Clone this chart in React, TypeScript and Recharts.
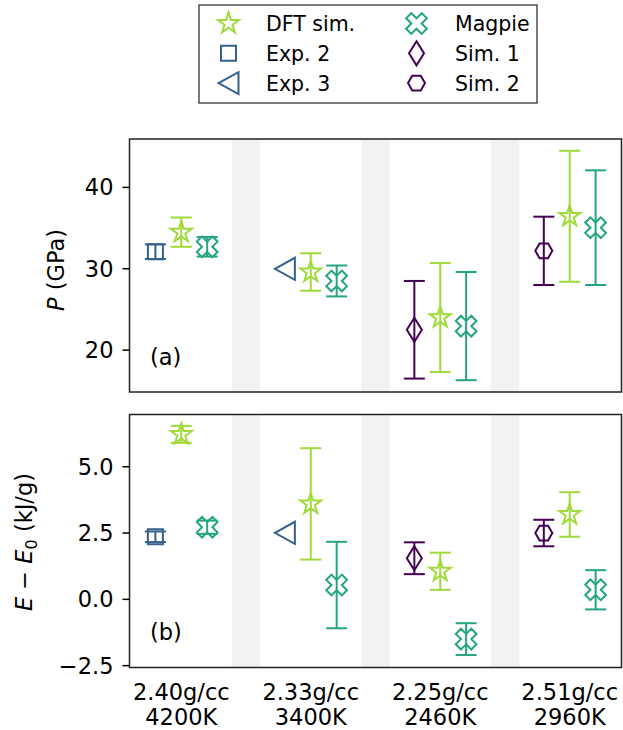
import { ScatterChart, Scatter, XAxis, YAxis, ErrorBar, ReferenceArea } from 'recharts'

// x tick labels
const densities = ['2.40g/cc', '2.33g/cc', '2.25g/cc', '2.51g/cc']
const temperatures = ['4200K', '3400K', '2460K', '2960K']

// (a) pressure, GPa
const dftP = [34.5, 29.6, 24.0, 36.45]
const dftPErr = [1.8, 2.3, 6.7, 8.05]
const magpieP = [32.7, 28.5, 22.95, 35.05]
const magpiePErr = [1.2, 1.9, 6.65, 7.05]
const exp2P = [32.1]
const exp2PErr = [0.9]
const exp3P = [30.0]
const sim1P = [22.5]
const sim1PErr = [6.0]
const sim2P = [32.2]
const sim2PErr = [4.2]

// (b) energy, kJ/g
const dftE = [6.22, 3.6, 1.06, 3.2]
const dftEErr = [0.32, 2.1, 0.7, 0.84]
const magpieE = [2.72, 0.54, -1.5, 0.36]
const magpieEErr = [0.25, 1.63, 0.6, 0.74]
const exp2E = [2.36]
const exp2EErr = [0.2]
const exp3E = [2.51]
const sim1E = [1.55]
const sim1EErr = [0.6]
const sim2E = [2.5]
const sim2EErr = [0.5]

// which density/temperature group each reference series belongs to
const exp2Groups = [0]
const exp3Groups = [1]
const sim1Groups = [2]
const sim2Groups = [3]
const allGroups = [0, 1, 2, 3]

const GREEN = '#9fda3a'
const TEAL = '#23a584'
const BLUE = '#35618d'
const PURPLE = '#440154'
const FONT = 'DejaVu Sans'
const SHIFT = 0.2

const pts = (groups: number[], shift: number, vals: number[], errs?: number[]) =>
  groups.map((g, i) => ({ x: g + shift, y: vals[i], err: errs ? errs[i] : 0 }))

// marker paths, centred on (cx, cy)
const starPath = (cx: number, cy: number) => {
  const R = 11
  const r = R * 0.382
  let d = ''
  for (let k = 0; k < 10; k++) {
    const rad = k % 2 === 0 ? R : r
    const a = -Math.PI / 2 + (k * Math.PI) / 5
    d += (k === 0 ? 'M' : 'L') + (cx + rad * Math.cos(a)).toFixed(2) + ',' + (cy + rad * Math.sin(a)).toFixed(2)
  }
  return d + 'Z'
}
const squarePath = (cx: number, cy: number) => `M${cx - 7.5},${cy - 7.5}h15v15h-15Z`
const triPath = (cx: number, cy: number) => `M${cx - 10},${cy}L${cx + 10},${cy - 11}L${cx + 10},${cy + 11}Z`
const diamondPath = (cx: number, cy: number) => `M${cx},${cy - 12}L${cx + 7.5},${cy}L${cx},${cy + 12}L${cx - 7.5},${cy}Z`
const hexPath = (cx: number, cy: number) => {
  const R = 8.5
  let d = ''
  for (let k = 0; k < 6; k++) {
    const a = (k * Math.PI) / 3
    d += (k === 0 ? 'M' : 'L') + (cx + R * Math.cos(a)).toFixed(2) + ',' + (cy + R * Math.sin(a)).toFixed(2)
  }
  return d + 'Z'
}
const xPath = (cx: number, cy: number) => {
  const s = 22 / 6
  const base = [[-1, -3], [-1, -1], [-3, -1], [-3, 1], [-1, 1], [-1, 3], [1, 3], [1, 1], [3, 1], [3, -1], [1, -1], [1, -3]]
  const c = Math.SQRT1_2
  return base
    .map(([px, py], k) => {
      const x = (px * c - py * c) * s
      const y = (px * c + py * c) * s
      return (k === 0 ? 'M' : 'L') + (cx + x).toFixed(2) + ',' + (cy + y).toFixed(2)
    })
    .join('') + 'Z'
}

const marker = (pathFn: (cx: number, cy: number) => string, color: string) => (props: any) => (
  <path d={pathFn(props.cx, props.cy)} fill="none" stroke={color} strokeWidth={2} />
)

type Series = { name: string; data: { x: number; y: number; err: number }[]; color: string; path: (cx: number, cy: number) => string; err: boolean }

const pressureSeries: Series[] = [
  { name: 'Exp. 2', data: pts(exp2Groups, -SHIFT, exp2P, exp2PErr), color: BLUE, path: squarePath, err: true },
  { name: 'Exp. 3', data: pts(exp3Groups, -SHIFT, exp3P), color: BLUE, path: triPath, err: false },
  { name: 'Sim. 1', data: pts(sim1Groups, -SHIFT, sim1P, sim1PErr), color: PURPLE, path: diamondPath, err: true },
  { name: 'Sim. 2', data: pts(sim2Groups, -SHIFT, sim2P, sim2PErr), color: PURPLE, path: hexPath, err: true },
  { name: 'DFT sim.', data: pts(allGroups, 0, dftP, dftPErr), color: GREEN, path: starPath, err: true },
  { name: 'Magpie', data: pts(allGroups, SHIFT, magpieP, magpiePErr), color: TEAL, path: xPath, err: true },
]

const energySeries: Series[] = [
  { name: 'Exp. 2', data: pts(exp2Groups, -SHIFT, exp2E, exp2EErr), color: BLUE, path: squarePath, err: true },
  { name: 'Exp. 3', data: pts(exp3Groups, -SHIFT, exp3E), color: BLUE, path: triPath, err: false },
  { name: 'Sim. 1', data: pts(sim1Groups, -SHIFT, sim1E, sim1EErr), color: PURPLE, path: diamondPath, err: true },
  { name: 'Sim. 2', data: pts(sim2Groups, -SHIFT, sim2E, sim2EErr), color: PURPLE, path: hexPath, err: true },
  { name: 'DFT sim.', data: pts(allGroups, 0, dftE, dftEErr), color: GREEN, path: starPath, err: true },
  { name: 'Magpie', data: pts(allGroups, SHIFT, magpieE, magpieEErr), color: TEAL, path: xPath, err: true },
]

const legendItems = [
  { name: 'DFT sim.', color: GREEN, path: starPath, col: 0, row: 0 },
  { name: 'Exp. 2', color: BLUE, path: squarePath, col: 0, row: 1 },
  { name: 'Exp. 3', color: BLUE, path: triPath, col: 0, row: 2 },
  { name: 'Magpie', color: TEAL, path: xPath, col: 1, row: 0 },
  { name: 'Sim. 1', color: PURPLE, path: diamondPath, col: 1, row: 1 },
  { name: 'Sim. 2', color: PURPLE, path: hexPath, col: 1, row: 2 },
]

const X_DOMAIN: [number, number] = [-0.4, 3.4]
const tickStyle = { fontSize: 22.5, fill: '#000', fontFamily: FONT }
const fmtE = (v: number) => (v < 0 ? '\u2212' + Math.abs(v).toFixed(1) : v.toFixed(1))

const XTick = (props: any) => {
  const { x, payload } = props
  return (
    <text textAnchor="middle" fontSize={22.5} fontFamily={FONT} fill="#000">
      <tspan x={x} y={299.5}>{densities[payload.value]}</tspan>
      <tspan x={x} y={324.5}>{temperatures[payload.value]}</tspan>
    </text>
  )
}

function Panel({ height, marginTop, domain, ticks, fmt, series, showX }: any) {
  return (
    <ScatterChart width={623} height={height} margin={{ top: marginTop, right: 1.5, bottom: showX ? 0 : 8, left: 0 }}>
      {[0, 1, 2].map((i) => (
        <ReferenceArea key={i} x1={i + 0.39} x2={i + 0.61} y1={domain[0]} y2={domain[1]} fill="#f2f2f2" fillOpacity={1} stroke="none" />
      ))}
      <ReferenceArea x1={X_DOMAIN[0]} x2={X_DOMAIN[1]} y1={domain[0]} y2={domain[1]} fill="none" stroke="#222" strokeWidth={1.5} />
      <XAxis
        type="number"
        dataKey="x"
        domain={X_DOMAIN}
        allowDataOverflow
        ticks={[0, 1, 2, 3]}
        hide={!showX}
        height={62.5}
        axisLine={false}
        tickLine={false}
        tick={<XTick />}
        interval={0}
      />
      <YAxis
        type="number"
        dataKey="y"
        domain={domain}
        allowDataOverflow
        ticks={ticks}
        tickFormatter={fmt}
        width={129.5}
        axisLine={false}
        tickLine={{ stroke: '#000', strokeWidth: 1.5 }}
        tickSize={7}
        tickMargin={9}
        tick={tickStyle}
      />
      {series.map((s: Series) => (
        <Scatter key={s.name} name={s.name} data={s.data} shape={marker(s.path, s.color)} isAnimationActive={false}>
          {s.err && (
            <ErrorBar dataKey="err" direction="y" width={10.5} stroke={s.color} strokeWidth={2} isAnimationActive={false} />
          )}
        </Scatter>
      ))}
    </ScatterChart>
  )
}

export default function App() {
  return (
    <div style={{ position: 'absolute', left: 0, top: 0, width: 623, height: 730, background: '#fff', fontFamily: FONT }}>
      <div style={{ position: 'absolute', left: 0, top: 0 }}>
        <Panel height={400} marginTop={139} domain={[14.85, 45.95]} ticks={[20, 30, 40]} fmt={(v: number) => String(v)} series={pressureSeries} showX={false} />
      </div>
      <div style={{ position: 'absolute', left: 0, top: 400 }}>
        <Panel height={330} marginTop={14.5} domain={[-2.57, 6.97]} ticks={[-2.5, 0, 2.5, 5]} fmt={fmtE} series={energySeries} showX />
      </div>
      <svg width={623} height={730} style={{ position: 'absolute', left: 0, top: 0, pointerEvents: 'none' }} fontFamily={FONT}>
        {/* legend */}
        <rect x={199} y={5} width={338} height={98} fill="#fff" stroke="#222" strokeWidth={1.2} />
        {legendItems.map((it) => {
          const cy = 23.5 + it.row * 29.8
          const mx = it.col === 0 ? 228.5 : 416.5
          const tx = it.col === 0 ? 266 : 455
          return (
            <g key={it.name}>
              <path d={it.path(mx, cy)} fill="none" stroke={it.color} strokeWidth={2} />
              <text x={tx} y={cy + 7.5} fontSize={20.5} fill="#000">{it.name}</text>
            </g>
          )
        })}
        {/* axis labels */}
        <text x={64} y={270} transform="rotate(-90 64 270)" textAnchor="middle" fontSize={22.5} fill="#000">
          <tspan fontStyle="italic">P</tspan> (GPa)
        </text>
        <text x={32} y={542} transform="rotate(-90 32 542)" textAnchor="middle" fontSize={22.5} fill="#000">
          <tspan fontStyle="italic">E</tspan> {'\u2212'} <tspan fontStyle="italic">E</tspan>
          <tspan fontSize={16} dy={5}>0</tspan>
          <tspan dy={-5}> (kJ/g)</tspan>
        </text>
        <text x={150} y={365} fontSize={22.5} fill="#000">(a)</text>
        <text x={150} y={640} fontSize={22.5} fill="#000">(b)</text>
      </svg>
    </div>
  )
}
